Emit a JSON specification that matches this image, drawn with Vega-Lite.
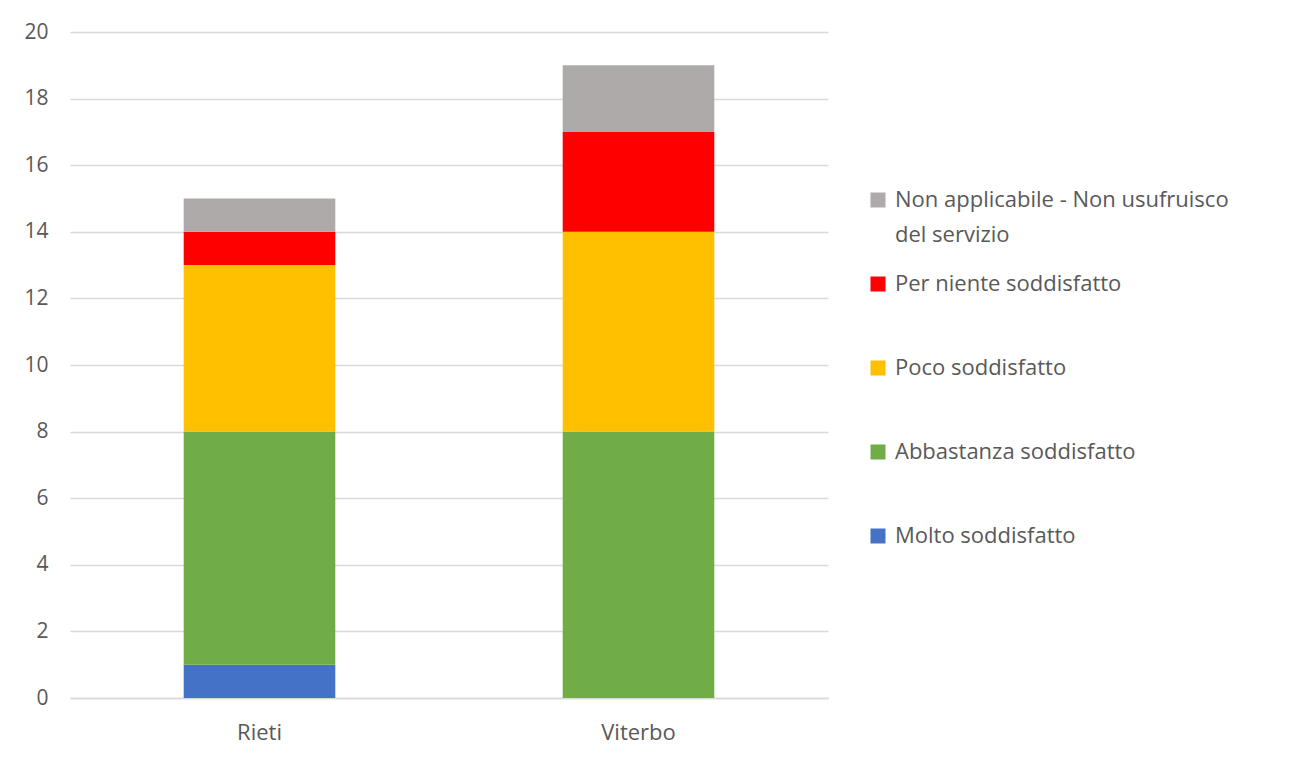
{
  "$schema": "https://vega.github.io/schema/vega-lite/v6.json",
  "width": 758,
  "height": 666,
  "autosize": {"type": "none"},
  "padding": {"left": 70, "top": 32, "right": 461, "bottom": 67},
  "background": "white",
  "data": {
    "values": [
      {"citta": "Rieti", "giudizio": "Molto soddisfatto", "k": 1, "n": 1},
      {"citta": "Rieti", "giudizio": "Abbastanza soddisfatto", "k": 2, "n": 7},
      {"citta": "Rieti", "giudizio": "Poco soddisfatto", "k": 3, "n": 5},
      {"citta": "Rieti", "giudizio": "Per niente soddisfatto", "k": 4, "n": 1},
      {"citta": "Rieti", "giudizio": "Non applicabile - Non usufruisco del servizio", "k": 5, "n": 1},
      {"citta": "Viterbo", "giudizio": "Molto soddisfatto", "k": 1, "n": 0},
      {"citta": "Viterbo", "giudizio": "Abbastanza soddisfatto", "k": 2, "n": 8},
      {"citta": "Viterbo", "giudizio": "Poco soddisfatto", "k": 3, "n": 6},
      {"citta": "Viterbo", "giudizio": "Per niente soddisfatto", "k": 4, "n": 3},
      {"citta": "Viterbo", "giudizio": "Non applicabile - Non usufruisco del servizio", "k": 5, "n": 2}
    ]
  },
  "mark": {"type": "bar"},
  "encoding": {
    "x": {
      "field": "citta",
      "type": "nominal",
      "scale": {"paddingInner": 0.6, "paddingOuter": 0.3},
      "axis": {
        "title": null,
        "labelAngle": 0,
        "labelFont": "Open Sans",
        "labelFontSize": 22,
        "labelColor": "#595959",
        "labelPadding": 24,
        "ticks": false,
        "domainColor": "#d9d9d9",
        "domainWidth": 1.5,
        "grid": false
      }
    },
    "y": {
      "field": "n",
      "type": "quantitative",
      "stack": "zero",
      "scale": {"domain": [0, 20], "nice": false},
      "axis": {
        "title": null,
        "values": [0, 2, 4, 6, 8, 10, 12, 14, 16, 18, 20],
        "labelFont": "Open Sans",
        "labelFontSize": 21,
        "labelColor": "#595959",
        "labelPadding": 22,
        "ticks": false,
        "domain": false,
        "gridColor": "#d9d9d9",
        "gridWidth": 1.5
      }
    },
    "color": {
      "field": "giudizio",
      "type": "nominal",
      "scale": {
        "domain": [
          "Non applicabile - Non usufruisco del servizio",
          "Per niente soddisfatto",
          "Poco soddisfatto",
          "Abbastanza soddisfatto",
          "Molto soddisfatto"
        ],
        "range": ["#AEAAAA", "#FF0000", "#FFC000", "#70AD47", "#4472C4"]
      },
      "legend": {
        "title": null,
        "orient": "none",
        "legendX": 797,
        "legendY": 157,
        "gridAlign": "all",
        "symbolType": "square",
        "symbolSize": 225,
        "symbolStrokeWidth": 0,
        "labelFont": "Open Sans",
        "labelFontSize": 22,
        "labelColor": "#595959",
        "labelLimit": 420,
        "labelOffset": 6,
        "rowPadding": 27,
        "labelExpr": "datum.label == 'Non applicabile - Non usufruisco del servizio' ? ['Non applicabile - Non usufruisco', 'del servizio'] : datum.label",
        "encode": {"labels": {"update": {"lineHeight": {"value": 35}}}}
      }
    },
    "order": {"field": "k", "type": "quantitative", "sort": "ascending"}
  },
  "config": {"view": {"stroke": null}}
}
